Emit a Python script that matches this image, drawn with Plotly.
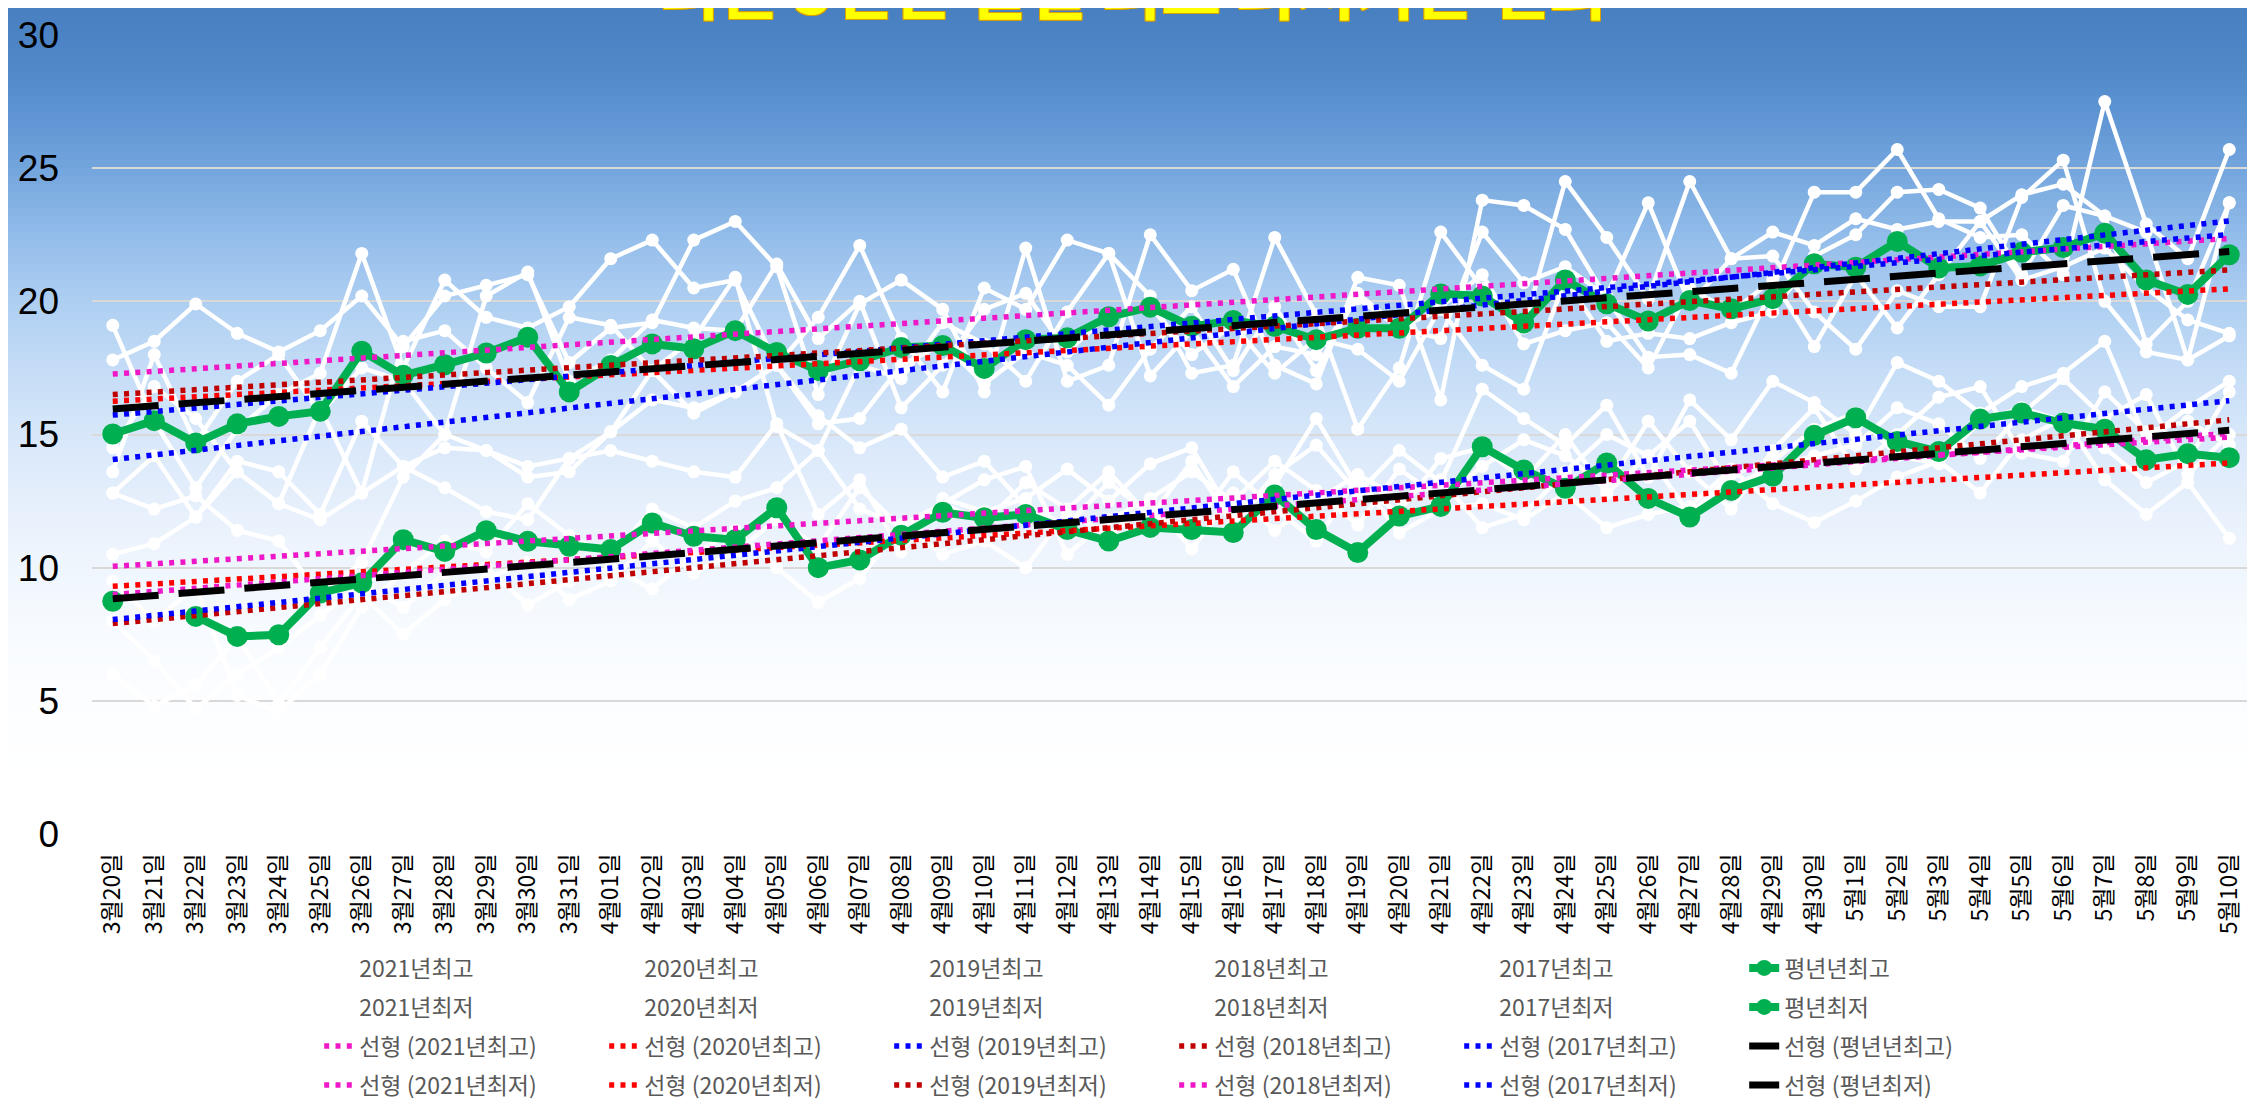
import plotly.graph_objects as go

# ---------------- data ----------------
dates = ["3월20일", "3월21일", "3월22일", "3월23일", "3월24일", "3월25일", "3월26일", "3월27일",
         "3월28일", "3월29일", "3월30일", "3월31일", "4월01일", "4월02일", "4월03일", "4월04일",
         "4월05일", "4월06일", "4월07일", "4월08일", "4월09일", "4월10일", "4월11일", "4월12일",
         "4월13일", "4월14일", "4월15일", "4월16일", "4월17일", "4월18일", "4월19일", "4월20일",
         "4월21일", "4월22일", "4월23일", "4월24일", "4월25일", "4월26일", "4월27일", "4월28일",
         "4월29일", "4월30일", "5월1일", "5월2일", "5월3일", "5월4일", "5월5일", "5월6일",
         "5월7일", "5월8일", "5월9일", "5월10일"]

max_2021 = [17.8, 18.5, 19.9, 18.8, 18.1, 18.9, 20.2, 18.3, 20.2, 20.6, 21.0, 17.7, 19.0, 19.2, 22.3, 23.0,
            21.3, 16.5, 19.9, 20.8, 19.7, 16.6, 22.0, 17.0, 17.6, 22.5, 20.4, 21.2, 17.6, 16.9, 20.9, 20.6,
            16.3, 23.8, 23.6, 22.7, 20.1, 17.9, 18.0, 17.3, 20.5, 24.1, 24.1, 25.7, 23.1, 22.4, 22.5, 21.0,
            27.5, 22.9, 21.6, 25.7]
max_2020 = [19.1, 15.5, 13.0, 15.2, 16.5, 17.3, 21.8, 17.5, 20.8, 19.4, 19.0, 19.8, 21.6, 22.3, 20.5, 20.8,
            17.6, 19.4, 22.1, 18.6, 16.6, 20.5, 19.7, 22.3, 21.8, 20.2, 17.3, 17.6, 22.4, 19.5, 15.2, 17.5,
            22.6, 20.5, 19.0, 24.5, 22.4, 20.1, 24.5, 21.6, 21.7, 19.6, 18.2, 20.4, 19.8, 19.8, 23.9, 25.3,
            20.0, 18.1, 17.8, 18.7]
max_2019 = [14.5, 16.8, 15.6, 13.6, 12.4, 16.0, 12.8, 18.5, 18.9, 17.5, 16.2, 19.4, 19.1, 17.4, 18.6, 20.9,
            15.3, 14.4, 17.6, 17.1, 19.2, 18.4, 17.0, 19.6, 21.8, 17.2, 18.9, 16.8, 18.3, 18.0, 20.1, 19.0,
            19.7, 17.6, 16.7, 20.8, 18.5, 18.8, 18.6, 19.2, 19.6, 21.7, 22.5, 24.1, 24.2, 23.5, 21.0, 23.6,
            23.2, 18.4, 20.0, 23.7]
max_2018 = [13.6, 18.0, 14.7, 17.0, 18.0, 15.8, 17.5, 17.0, 15.0, 20.2, 21.1, 17.0, 17.8, 19.3, 19.0, 18.9,
            21.4, 18.6, 20.0, 16.0, 17.6, 19.7, 20.3, 18.1, 19.5, 19.8, 18.0, 19.1, 17.3, 18.6, 18.2, 17.0,
            19.8, 21.0, 18.4, 18.9, 19.2, 17.5, 20.5, 19.6, 20.8, 18.3, 21.0, 19.0, 21.0, 23.0, 20.8, 21.3,
            22.0, 20.5, 19.3, 18.8]
max_2017 = [12.8, 14.2, 11.9, 14.0, 13.6, 12.0, 15.5, 13.8, 14.5, 14.4, 13.8, 14.1, 15.1, 16.3, 16.0, 16.6,
            17.6, 15.4, 15.6, 17.6, 18.4, 16.9, 18.1, 17.6, 16.1, 18.2, 19.8, 17.4, 19.8, 17.4, 20.3, 19.0,
            18.6, 22.6, 20.7, 21.3, 20.2, 23.7, 19.9, 21.6, 22.6, 22.1, 23.1, 22.7, 23.0, 23.0, 24.0, 24.4,
            23.2, 22.6, 17.8, 23.7]

min_2021 = [10.5, 10.9, 11.9, 13.6, 12.4, 11.8, 12.8, 13.8, 13.0, 12.1, 11.8, 14.1, 14.4, 14.0, 13.6, 13.4,
            15.4, 12.0, 13.3, 10.6, 12.6, 12.1, 12.6, 13.7, 12.5, 13.9, 14.5, 11.9, 13.1, 15.6, 13.0, 12.1,
            14.1, 14.5, 13.3, 15.0, 12.8, 14.2, 12.0, 13.5, 14.0, 15.2, 15.8, 14.2, 13.9, 15.5, 16.0, 15.5,
            14.5, 13.2, 14.0, 16.6]
min_2020 = [12.8, 12.2, 12.7, 11.4, 11.0, 9.0, 10.2, 13.4, 15.0, 14.4, 13.4, 13.6, 15.1, 17.4, 15.8, 16.6,
            17.6, 15.7, 14.5, 15.2, 13.4, 14.0, 12.3, 11.6, 13.2, 12.0, 11.5, 13.6, 12.2, 11.0, 13.4, 11.3,
            12.2, 12.4, 11.8, 12.8, 11.5, 12.0, 12.3, 13.7, 12.4, 11.7, 12.5, 13.4, 14.0, 12.8, 14.8, 15.6,
            13.3, 12.0, 13.2, 11.1]
min_2019 = [8.0, 6.5, 4.7, 6.0, 7.0, 8.2, 9.4, 8.5, 9.8, 10.0, 8.6, 9.5, 10.0, 9.2, 10.5, 11.4,
            10.0, 8.7, 9.6, 11.6, 10.5, 11.0, 10.0, 12.1, 11.2, 12.5, 10.7, 12.8, 11.4, 12.5, 13.5, 12.6,
            13.3, 11.5, 12.0, 13.6, 15.0, 14.2, 15.5, 13.0, 13.8, 14.2, 14.6, 16.0, 15.4, 14.1, 15.8, 17.1,
            15.6, 16.5, 13.5, 15.0]
min_2018 = [9.5, 8.0, 9.3, 5.2, 4.6, 6.0, 8.5, 9.8, 11.0, 10.6, 12.4, 11.2, 10.4, 12.2, 11.5, 12.5,
            13.0, 14.4, 12.2, 11.6, 12.4, 13.3, 13.8, 10.5, 11.8, 12.6, 13.6, 12.5, 14.0, 12.9, 11.6, 13.7,
            12.6, 13.8, 14.8, 14.2, 13.0, 15.5, 13.6, 12.2, 14.4, 16.0, 13.7, 15.0, 16.4, 16.8, 14.3, 14.0,
            16.6, 15.1, 15.5, 14.6]
min_2017 = [6.0, 4.8, 5.6, 7.4, 4.9, 7.0, 9.0, 7.5, 8.8, 9.6, 10.2, 8.8, 9.5, 11.0, 9.8, 10.6,
            11.8, 10.8, 13.0, 11.5, 12.4, 11.7, 13.2, 12.2, 13.6, 11.9, 14.0, 11.6, 13.5, 14.6, 12.8, 14.4,
            13.2, 16.7, 15.6, 14.6, 16.1, 13.4, 16.3, 14.8, 17.0, 16.2, 15.0, 17.7, 17.0, 15.8, 16.8, 17.3,
            18.5, 14.8, 16.0, 17.0]

normal_max = [15.02, 15.52, 14.68, 15.40, 15.68, 15.87, 18.13, 17.22, 17.62, 18.06, 18.65, 16.60, 17.59,
              18.40, 18.22, 18.90, 18.08, 17.40, 17.77, 18.27, 18.34, 17.48, 18.56, 18.63, 19.42, 19.78,
              19.06, 19.28, 19.06, 18.56, 18.99, 18.99, 20.28, 20.20, 19.19, 20.80, 19.91, 19.26, 20.03,
              19.72, 20.10, 21.41, 21.28, 22.25, 21.25, 21.33, 21.84, 22.02, 22.56, 20.80, 20.26, 21.75]
normal_min = [8.74, None, 8.17, 7.42, 7.48, 9.05, 9.43, 11.05, 10.61, 11.39, 10.99, 10.80, 10.68,
              11.68, 11.18, 11.05, 12.25, 10.00, 10.29, 11.22, 12.08, 11.87, 12.00, 11.43, 11.00, 11.51,
              11.43, 11.32, 12.73, 11.43, 10.57, 11.94, 12.30, 14.54, 13.67, 12.98, 13.93, 12.60, 11.90,
              12.90, 13.44, 14.97, 15.63, 14.74, 14.36, 15.58, 15.81, 15.43, 15.20, 14.05, 14.28, 14.13]

# trendline end values (first day, last day)
trend_max_names = ["선형 (2021년최고)", "선형 (2020년최고)", "선형 (2019년최고)",
                   "선형 (2018년최고)", "선형 (2017년최고)", "선형 (평년년최고)"]
trend_max_start = [17.27, 16.25, 15.73, 16.50, 14.06, 15.96]
trend_max_end = [22.36, 20.47, 22.51, 21.18, 23.02, 21.87]
trend_min_names = ["선형 (2021년최저)", "선형 (2020년최저)", "선형 (2019년최저)",
                   "선형 (2018년최저)", "선형 (2017년최저)", "선형 (평년최저)"]
trend_min_start = [10.05, 9.30, 7.90, 8.99, 8.05, 8.83]
trend_min_end = [14.90, 13.93, 15.55, 15.05, 16.27, 15.16]

max_names = ["2021년최고", "2020년최고", "2019년최고", "2018년최고", "2017년최고"]
min_names = ["2021년최저", "2020년최저", "2019년최저", "2018년최저", "2017년최저"]
y_ticks = [0, 5, 10, 15, 20, 25, 30]
title_text = "최근 5년간 일별 최고 최저기온 변화"

# ---------------- styles ----------------
MAGENTA = "#ee18c8"
RED = "#ff0000"
DRED = "#c00000"
BLUE = "#0000ff"
GREEN = "#00b050"
trend_max_colors = [MAGENTA, RED, BLUE, DRED, BLUE, "#000000"]
trend_min_colors = [MAGENTA, RED, DRED, MAGENTA, BLUE, "#000000"]
KFONT = "Noto Sans CJK KR"
NARROW = "Liberation Sans Narrow, Arial Narrow, Liberation Sans, sans-serif"

fig = go.Figure()

max_series = [max_2021, max_2020, max_2019, max_2018, max_2017]
min_series = [min_2021, min_2020, min_2019, min_2018, min_2017]

for name, ser in zip(max_names, max_series):
    fig.add_trace(go.Scatter(x=dates, y=ser, name=name, mode="lines+markers",
                             line=dict(color="white", width=4.5),
                             marker=dict(color="white", size=13), legend="legend"))
for name, ser in zip(min_names, min_series):
    fig.add_trace(go.Scatter(x=dates, y=ser, name=name, mode="lines+markers",
                             line=dict(color="white", width=4.5),
                             marker=dict(color="white", size=13), legend="legend2"))

fig.add_trace(go.Scatter(x=dates, y=normal_max, name="평년년최고", mode="lines+markers",
                         line=dict(color=GREEN, width=8), marker=dict(color=GREEN, size=21),
                         legend="legend"))
fig.add_trace(go.Scatter(x=dates, y=normal_min, name="평년최저", mode="lines+markers",
                         line=dict(color=GREEN, width=8), marker=dict(color=GREEN, size=21),
                         connectgaps=False, legend="legend2"))

DOT = "5px,6.3px"
DASH = "46px,20px"
for name, s, e, c in zip(trend_max_names, trend_max_start, trend_max_end, trend_max_colors):
    black = c == "#000000"
    fig.add_trace(go.Scatter(x=[dates[0], dates[-1]], y=[s, e], name=name, mode="lines",
                             line=dict(color=c, width=7 if black else 5.5, dash=DASH if black else DOT),
                             legend="legend3"))
for name, s, e, c in zip(trend_min_names, trend_min_start, trend_min_end, trend_min_colors):
    black = c == "#000000"
    fig.add_trace(go.Scatter(x=[dates[0], dates[-1]], y=[s, e], name=name, mode="lines",
                             line=dict(color=c, width=7 if black else 5.5, dash=DASH if black else DOT),
                             legend="legend4"))

# ---------------- background gradient ----------------
W, H = 2255, 1099
ML, MR, MT, MB = 84, 13, 27, 273
plot_h = H - MT - MB
stops = [(0, (72, 127, 192)), (60, (80, 136, 200)), (120, (98, 152, 213)), (180, (124, 172, 225)),
         (240, (152, 192, 236)), (300, (176, 208, 242)), (360, (196, 220, 246)), (420, (213, 230, 249)),
         (480, (227, 238, 251)), (540, (237, 244, 253)), (600, (245, 249, 254)), (660, (250, 252, 255)),
         (720, (253, 254, 255)), (770, (255, 255, 255))]


def col_at(py):
    for (p0, c0), (p1, c1) in zip(stops[:-1], stops[1:]):
        if p0 <= py <= p1:
            t = (py - p0) / (p1 - p0)
            return "rgb(%d,%d,%d)" % tuple(round(a + (b - a) * t) for a, b in zip(c0, c1))
    return "rgb(255,255,255)"


shapes = []
step = 8
for py in range(0, 776, step):
    y1 = (H - MB - py) / plot_h
    y0 = (H - MB - (py + step + 1)) / plot_h
    shapes.append(dict(type="rect", xref="paper", yref="paper", x0=-0.1, x1=1.1, y0=y0, y1=y1,
                       fillcolor=col_at(py + step / 2), line=dict(width=0), layer="below"))


def legend_cfg(py):
    return dict(orientation="h", xref="container", yref="container", x=0.138, xanchor="left",
                y=1 - py / H, yanchor="middle", entrywidth=240, entrywidthmode="pixels",
                font=dict(family=KFONT, size=23, color="#595959"), bgcolor="rgba(0,0,0,0)",
                itemwidth=30, tracegroupgap=0, traceorder="normal")


fig.update_layout(
    width=W, height=H,
    margin=dict(l=ML, r=MR, t=MT, b=MB, autoexpand=False),
    paper_bgcolor="white", plot_bgcolor="rgba(0,0,0,0)",
    shapes=shapes,
    showlegend=True,
    legend=legend_cfg(960), legend2=legend_cfg(999), legend3=legend_cfg(1038), legend4=legend_cfg(1077),
    xaxis=dict(type="category", range=[-0.5, len(dates) - 0.5], showgrid=False, zeroline=False,
               showline=False, tickangle=-90, ticks="", ticklabelstandoff=14,
               tickfont=dict(family=KFONT, size=23, color="black")),
    yaxis=dict(range=[0, 30], tickvals=y_ticks, showgrid=True, gridcolor="#d9d9d9", gridwidth=2,
               zeroline=False, showline=False, ticks="", ticklabelstandoff=32,
               tickfont=dict(family=NARROW, size=37, color="black")),
    annotations=[dict(text="<b>" + title_text + "</b>", xref="paper", yref="paper",
                      x=(1126 - ML) / (W - ML - MR), y=(H - MB + 22) / plot_h,
                      xanchor="center", yanchor="middle", showarrow=False,
                      font=dict(family=KFONT, size=65, color="#ffff00",
                                shadow="1px 1px 0 #d9a000, -1px -1px 0 #d9a000, 1px -1px 0 #d9a000, -1px 1px 0 #d9a000"))],
)

fig.write_html("out.html")
